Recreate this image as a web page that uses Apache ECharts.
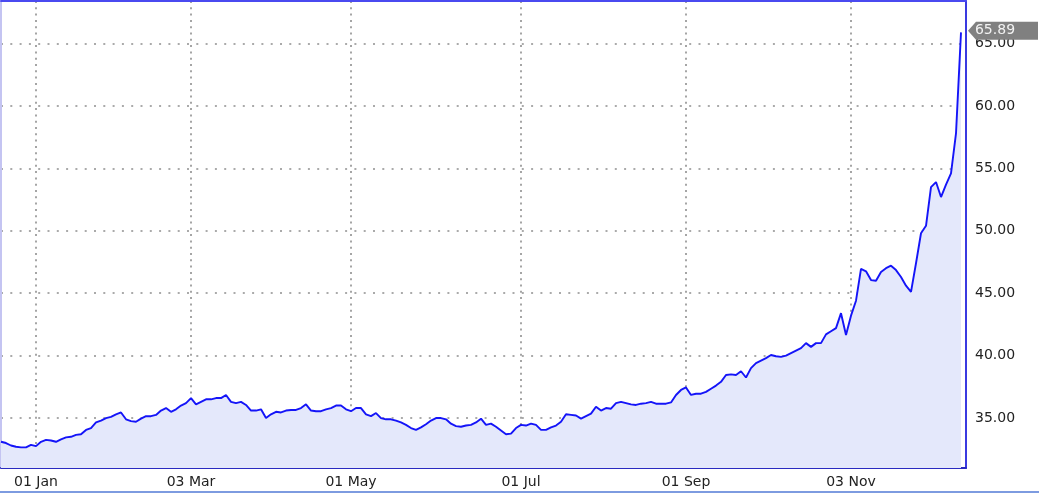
<!DOCTYPE html>
<html><head><meta charset="utf-8">
<script src="https://cdn.jsdelivr.net/npm/echarts@6/dist/echarts.min.js"></script>
<style>html,body{margin:0;padding:0;background:#fff}#c{width:1039px;height:494px}</style>
</head><body><div id="c"></div>
<script>
// Closing prices, one sample every few sessions
const prices = [
  33.1, 33.0, 32.8, 32.7, 32.65, 32.65, 32.85, 32.75, 33.1, 33.25,
  33.2, 33.1, 33.3, 33.45, 33.5, 33.65, 33.7, 34.05, 34.2, 34.65,
  34.8, 35.0, 35.1, 35.3, 35.45, 34.9, 34.75, 34.7, 34.95, 35.15,
  35.15, 35.25, 35.6, 35.8, 35.5, 35.7, 36.0, 36.2, 36.6, 36.1,
  36.3, 36.5, 36.5, 36.6, 36.6, 36.85, 36.3, 36.2, 36.3, 36.05,
  35.6, 35.6, 35.7, 35.0, 35.3, 35.5, 35.45, 35.6, 35.65, 35.65,
  35.8, 36.1, 35.6, 35.55, 35.55, 35.7, 35.8, 36.0, 36.0, 35.7,
  35.55, 35.8, 35.8, 35.3, 35.15, 35.4, 35.0, 34.9, 34.9, 34.8,
  34.65, 34.45, 34.2, 34.05, 34.25, 34.5, 34.8, 35.0, 35.0, 34.9,
  34.55, 34.35, 34.3, 34.4, 34.45, 34.65, 34.95, 34.45, 34.55, 34.3,
  34.0, 33.7, 33.75, 34.2, 34.45, 34.4, 34.55, 34.45, 34.05, 34.05,
  34.25, 34.4, 34.7, 35.3, 35.25, 35.2, 34.95, 35.15, 35.35, 35.9,
  35.6, 35.8, 35.75, 36.2, 36.3, 36.2, 36.1, 36.05, 36.15, 36.2,
  36.3, 36.15, 36.15, 36.15, 36.25, 36.85, 37.25, 37.45, 36.85, 36.95,
  36.95, 37.1, 37.35, 37.6, 37.9, 38.45, 38.5, 38.45, 38.75, 38.25,
  39.0, 39.4, 39.6, 39.8, 40.05, 39.95, 39.9, 40.0, 40.2, 40.4,
  40.6, 41.0, 40.7, 41.0, 41.0, 41.7, 41.95, 42.2, 43.4, 41.65,
  43.2, 44.4, 46.95, 46.75, 46.05, 46.0, 46.7, 47.0, 47.2, 46.85,
  46.3, 45.6, 45.1, 47.4, 49.8, 50.4, 53.5, 53.9, 52.7, 53.7,
  54.6, 57.8, 65.89
];
// Sample slots along the time axis (a few empty slots after the last close)
const sampleCount = 194;
const samples = Array.from({length: sampleCount}, (_, i) => String(i));
// Date tick labels and the sample they fall on
const tickLabels = ['01 Jan', '03 Mar', '01 May', '01 Jul', '01 Sep', '03 Nov'];
const tickSamples = [7, 38, 70, 104, 137, 170];
const yMin = 31, yMax = 68.4;

const FONT = 'DejaVu Sans';
const chart = echarts.init(document.getElementById('c'), null, {renderer: 'canvas'});
const isTick = (i) => tickSamples.indexOf(i) >= 0;
const last = prices.length - 1;

chart.setOption({
  animation: false,
  backgroundColor: '#fff',
  grid: {left: 1, right: 73, top: 1, bottom: 26, containLabel: false},
  xAxis: [{
    type: 'category', data: samples, boundaryGap: false,
    axisLine: {show: true, onZero: false, lineStyle: {color: '#2a2ac0', width: 2}},
    axisTick: {show: false},
    axisLabel: {
      interval: (i) => isTick(i),
      formatter: (v, i) => tickLabels[tickSamples.indexOf(i)] || '',
      color: '#222', fontFamily: FONT, fontSize: 14, margin: 7
    },
    splitLine: {show: true, interval: (i) => isTick(i),
      lineStyle: {color: '#8f8f8f', width: 1.6, type: [2, 4.3]}}
  }, {
    type: 'category', data: samples, boundaryGap: false, position: 'top',
    axisLine: {show: true, onZero: false, lineStyle: {color: '#4a4af0', width: 2}},
    axisTick: {show: false}, axisLabel: {show: false}, splitLine: {show: false}
  }],
  yAxis: [{
    type: 'value', position: 'right', min: yMin, max: yMax, splitNumber: 7,
    axisLine: {show: true, lineStyle: {color: '#3a3ae0', width: 2}},
    axisTick: {show: false},
    axisLabel: {formatter: (v) => v.toFixed(2), showMinLabel: false, showMaxLabel: false,
      color: '#222', fontFamily: FONT, fontSize: 14, margin: 9},
    splitLine: {show: true, showMinLine: false, showMaxLine: false,
      lineStyle: {color: '#8f8f8f', width: 1.6, type: [2, 7.3]}}
  }, {
    type: 'value', position: 'left', min: yMin, max: yMax,
    axisLine: {show: true, lineStyle: {color: '#c4c4f2', width: 2}},
    axisTick: {show: false}, axisLabel: {show: false}, splitLine: {show: false}
  }],
  graphic: [{type: 'rect', shape: {x: 0, y: 491, width: 1039, height: 2},
    style: {fill: '#7d9be0'}, silent: true}],
  series: [{
    type: 'line', data: prices, xAxisIndex: 0, yAxisIndex: 0,
    showSymbol: false, symbol: 'none', clip: false,
    lineStyle: {color: '#1414f8', width: 1.9},
    areaStyle: {color: '#e4e8fb', opacity: 1},
    markPoint: {
      symbol: 'path://M0,9 L8,0 L70,0 L70,18 L8,18 Z',
      symbolSize: [70, 18], symbolKeepAspect: false,
      symbolOffset: [42, -1.5],
      itemStyle: {color: '#808080'},
      label: {show: true, position: 'inside', offset: [-8, 0], color: '#f2f2f2',
        fontFamily: FONT, fontSize: 14, formatter: (p) => p.value.toFixed(2)},
      data: [{coord: [last, prices[last]], value: prices[last]}]
    }
  }]
});
</script></body></html>
